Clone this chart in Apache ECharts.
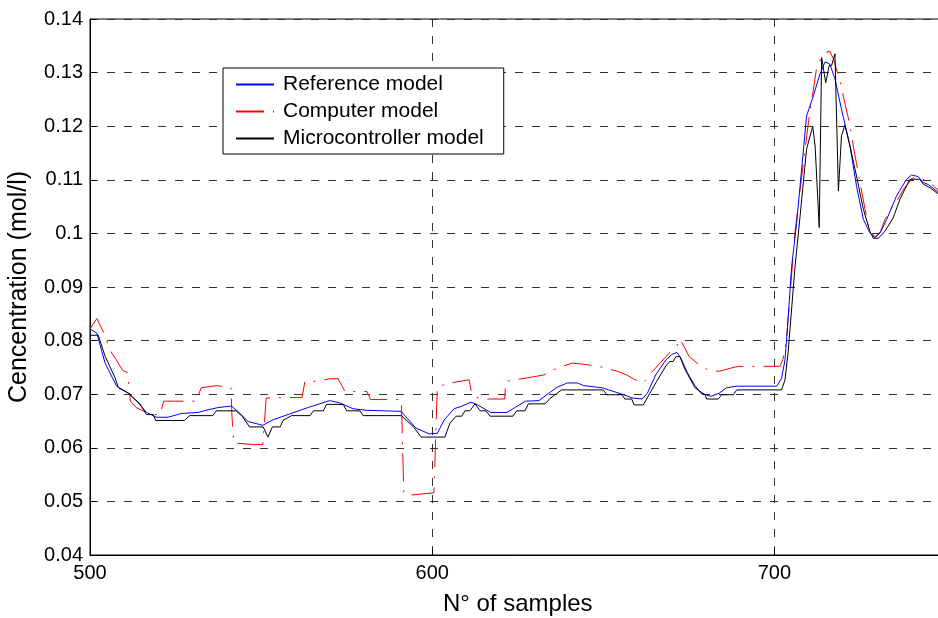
<!DOCTYPE html>
<html>
<head>
<meta charset="utf-8">
<script src="https://cdn.jsdelivr.net/npm/echarts@6/dist/echarts.min.js"></script>
<style>
  html, body { margin: 0; padding: 0; background: #fff; }
  #chart { width: 938px; height: 618px; }
</style>
</head>
<body>
<div id="chart"></div>
<script>
// [sample, concentration] pairs
const referenceModel = [
  [500, 0.0822], [502, 0.0814], [504.4, 0.0758], [505.8, 0.0740], [507.8, 0.0715],
  [511.2, 0.0702], [514.1, 0.0684], [516.5, 0.0666], [519.4, 0.0657], [522.8, 0.0657],
  [526.7, 0.0664], [531.6, 0.0666], [534.5, 0.0671], [537.4, 0.0675], [541.3, 0.0678],
  [543.2, 0.0668], [546.2, 0.0649], [550.5, 0.0642], [553.4, 0.0652], [558.3, 0.0663],
  [564.1, 0.0676], [570, 0.0688], [572.9, 0.0684], [576.8, 0.0673], [580.7, 0.0670],
  [590.9, 0.0668], [595.2, 0.0637], [599.1, 0.0626], [601.5, 0.0627], [603.5, 0.0652],
  [606.4, 0.0673], [608.4, 0.0677], [611.3, 0.0685], [612.7, 0.0682], [617.1, 0.0666],
  [621.9, 0.0666], [624.4, 0.0676], [627.3, 0.0687], [631.2, 0.0688], [634.1, 0.0702],
  [636.5, 0.0713], [639.5, 0.0721], [642.4, 0.0721], [644.3, 0.0716], [649.7, 0.0712],
  [651.6, 0.0708], [655.5, 0.0700], [658.4, 0.0693], [661.4, 0.0691], [662.9, 0.0702],
  [665.3, 0.0736], [668.3, 0.0764], [670, 0.0774], [671.5, 0.0778], [672.6, 0.0768],
  [674.6, 0.0740], [676.6, 0.0718], [678.5, 0.0702], [681.4, 0.0696], [683.9, 0.0702],
  [686, 0.0712], [689, 0.0715], [700.7, 0.0715], [702.1, 0.0730], [703.1, 0.0764],
  [704, 0.0839], [705, 0.0936], [706.5, 0.1020], [709.4, 0.1219], [711.4, 0.1257],
  [713.3, 0.1297], [714.8, 0.1320], [716.2, 0.1316], [717.7, 0.1288], [719.6, 0.1232],
  [722.1, 0.1163], [724, 0.1088], [726, 0.1026], [727.9, 0.1001], [729.4, 0.0992],
  [730.9, 0.1001], [732.8, 0.1026], [735.7, 0.1070], [738.6, 0.1101], [740.1, 0.1109],
  [742, 0.1106], [743.5, 0.1095], [745, 0.1091], [748, 0.1076]
];

const computerModel = [
  [500, 0.0822], [502, 0.0841], [504, 0.0815], [506, 0.0780], [507.5, 0.0766],
  [509.5, 0.0745], [511, 0.0740], [511.8, 0.0687], [513.5, 0.0675], [516.5, 0.0666],
  [519, 0.0662], [520.5, 0.0662], [521.5, 0.0687], [531, 0.0687], [532.5, 0.0712],
  [537, 0.0716], [541.2, 0.0712], [541.5, 0.0658], [542, 0.0609], [548, 0.0606],
  [550.5, 0.0606], [551.5, 0.0693], [562, 0.0694], [562.8, 0.0724], [567, 0.0724],
  [570, 0.0729], [572.5, 0.0729], [574.5, 0.0705], [580.9, 0.0705], [582, 0.0690],
  [591, 0.0690], [591.7, 0.0515], [594, 0.0512], [600.5, 0.0516], [601.5, 0.0713],
  [603.5, 0.0718], [605.4, 0.0721], [610.8, 0.0727], [611.3, 0.0708], [612.5, 0.0695],
  [615.2, 0.0691], [621.2, 0.0691], [621.5, 0.0724], [627.3, 0.0730], [632.7, 0.0736],
  [635.6, 0.0746], [638, 0.0752], [640.9, 0.0758], [644, 0.0756], [648.7, 0.0752],
  [651, 0.0748], [654, 0.0743], [656.8, 0.0736], [659, 0.0728], [661.7, 0.0721],
  [664, 0.0740], [666.6, 0.0758], [669, 0.0775], [671.4, 0.0789], [672.4, 0.0803],
  [673.5, 0.0790], [675.1, 0.0770], [678, 0.0755], [681.2, 0.0743], [684, 0.0743],
  [687.5, 0.0749], [689.4, 0.0752], [701.6, 0.0752], [702.5, 0.0765], [703.5, 0.0800],
  [704.5, 0.0880], [706, 0.1001], [708, 0.1107], [710, 0.1210], [712.3, 0.1307],
  [713.5, 0.1325], [715.2, 0.1338], [716.2, 0.1340], [717.3, 0.1325], [718.4, 0.1300],
  [719.2, 0.1285], [720.2, 0.1254], [721.9, 0.1207], [723, 0.1165], [724, 0.1130],
  [725, 0.1095], [726.5, 0.1045], [727.9, 0.1003], [729.5, 0.0994], [731, 0.1003],
  [732.3, 0.1026], [734, 0.1045], [735.7, 0.1060], [738, 0.1085], [740.5, 0.1104],
  [742.5, 0.1104], [745.3, 0.1095], [748, 0.1080]
];

const microcontrollerModel = [
  [500, 0.0810], [502.4, 0.0810], [504.4, 0.0771], [507.3, 0.0731], [508.3, 0.0712],
  [511.2, 0.0702], [514.6, 0.0682], [516.5, 0.0662], [518.5, 0.0662], [519.2, 0.0651],
  [527.6, 0.0651], [529.1, 0.0660], [535.9, 0.0660], [536.9, 0.0669], [542.7, 0.0669],
  [544.6, 0.0658], [546.6, 0.0639], [550.6, 0.0639], [552, 0.0620], [553.3, 0.0639],
  [555.6, 0.0639], [556.4, 0.0651], [558.9, 0.0660], [564.3, 0.0660], [565.3, 0.0669],
  [568.2, 0.0669], [569.1, 0.0681], [574, 0.0681], [575, 0.0669], [578.9, 0.0669],
  [579.8, 0.0660], [591, 0.0660], [594.4, 0.0640], [596.8, 0.0620], [603.7, 0.0620],
  [605.2, 0.0646], [607, 0.0659], [608.6, 0.0659], [609.6, 0.0669], [611, 0.0669],
  [612.5, 0.0682], [614, 0.0669], [615.7, 0.0669], [616.9, 0.0659], [623.6, 0.0659],
  [624.7, 0.0669], [627.1, 0.0669], [628.1, 0.0682], [633, 0.0682], [634.4, 0.0692],
  [635.9, 0.0699], [637.8, 0.0708], [650, 0.0708], [651, 0.0699], [655.4, 0.0699],
  [656.3, 0.0691], [658.3, 0.0691], [659, 0.0680], [661.7, 0.0680], [663.1, 0.0696],
  [665.6, 0.0724], [668.5, 0.0755], [669.5, 0.0761], [670.4, 0.0761], [671.2, 0.0770],
  [672.4, 0.0770], [673.9, 0.0746], [676.8, 0.0712], [679.7, 0.0699], [680.2, 0.0691],
  [683.6, 0.0691], [684.6, 0.0699], [688, 0.0699], [689, 0.0708], [702.1, 0.0708],
  [703.1, 0.0727], [704, 0.0777], [706, 0.0936], [707.5, 0.1032], [709.4, 0.1157],
  [711.2, 0.1200], [711.9, 0.1163], [713.1, 0.1011], [713.8, 0.1328], [715, 0.1281],
  [716, 0.1313], [716.7, 0.1313], [717.7, 0.1335], [718.7, 0.1079], [719.6, 0.1182],
  [720.6, 0.1202], [722.1, 0.1163], [724, 0.1107], [726, 0.1045], [727.9, 0.1004],
  [728.9, 0.0991], [730.4, 0.0991], [732.3, 0.1004], [734.7, 0.1029], [736.7, 0.1064],
  [739.6, 0.1101], [742.5, 0.1101], [743.5, 0.1092], [745.5, 0.1085], [748, 0.1073]
];

const seriesNames = ['Reference model', 'Computer model', 'Microcontroller model'];

const font = '"Liberation Sans", Arial, Helvetica, sans-serif';
const gridDash = { color: '#333', width: 1, type: [8, 9] };

const chart = echarts.init(document.getElementById('chart'), null, { renderer: 'canvas' });

chart.setOption({
  animation: false,
  backgroundColor: '#fff',
  textStyle: { fontFamily: font },
  // axes run to 750, a little past the right edge of the picture
  grid: {
    left: 90,
    top: 19,
    width: 855.5,
    height: 536,
    outerBoundsMode: 'none',
    containLabel: false,
    show: true,
    borderColor: '#000',
    borderWidth: 1,
    backgroundColor: 'transparent'
  },
  legend: {
    orient: 'vertical',
    left: 223,
    top: 68,
    data: seriesNames,
    itemWidth: 38,
    itemHeight: 14,
    itemGap: 6,
    padding: [6, 20, 5, 12],
    borderColor: '#000',
    borderWidth: 1,
    backgroundColor: '#fff',
    itemStyle: { opacity: 0, borderWidth: 0 },
    textStyle: { fontSize: 21, color: '#000', fontFamily: font, padding: [0, 0, 0, 4] }
  },
  xAxis: {
    type: 'value',
    min: 500,
    max: 750,
    interval: 100,
    name: 'N° of samples',
    nameLocation: 'middle',
    nameGap: 37,
    nameTextStyle: { fontSize: 24, color: '#000', fontFamily: font },
    axisLine: { lineStyle: { color: '#000', width: 1 } },
    axisTick: { inside: true, length: 6, lineStyle: { color: '#000' } },
    axisLabel: {
      fontSize: 20, color: '#000', margin: 8, fontFamily: font,
      showMaxLabel: false,
      formatter: v => (v % 100 === 0 ? String(v) : '')
    },
    splitLine: { show: true, lineStyle: gridDash }
  },
  yAxis: {
    type: 'value',
    min: 0.04,
    max: 0.14,
    interval: 0.01,
    name: 'Cencentration (mol/l)',
    nameLocation: 'middle',
    nameGap: 58,
    nameTextStyle: { fontSize: 25, color: '#000', fontFamily: font },
    axisLine: { show: true, lineStyle: { color: '#000', width: 1 } },
    axisTick: { show: true, inside: true, length: 6, lineStyle: { color: '#000' } },
    axisLabel: { fontSize: 20, color: '#000', margin: 7, fontFamily: font },
    splitLine: { show: true, lineStyle: gridDash }
  },
  series: [
    {
      name: seriesNames[0],
      type: 'line',
      data: referenceModel,
      symbol: 'none',
      lineStyle: { color: '#0000ff', width: 1 },
      itemStyle: { color: '#0000ff' },
      z: 3
    },
    {
      name: seriesNames[1],
      type: 'line',
      data: computerModel,
      symbol: 'none',
      lineStyle: { color: '#ff0000', width: 1, type: [28, 9, 2, 9] },
      itemStyle: { color: '#ff0000' },
      z: 2
    },
    {
      name: seriesNames[2],
      type: 'line',
      data: microcontrollerModel,
      symbol: 'none',
      lineStyle: { color: '#000000', width: 1 },
      itemStyle: { color: '#000000' },
      z: 4
    }
  ]
});
</script>
</body>
</html>
